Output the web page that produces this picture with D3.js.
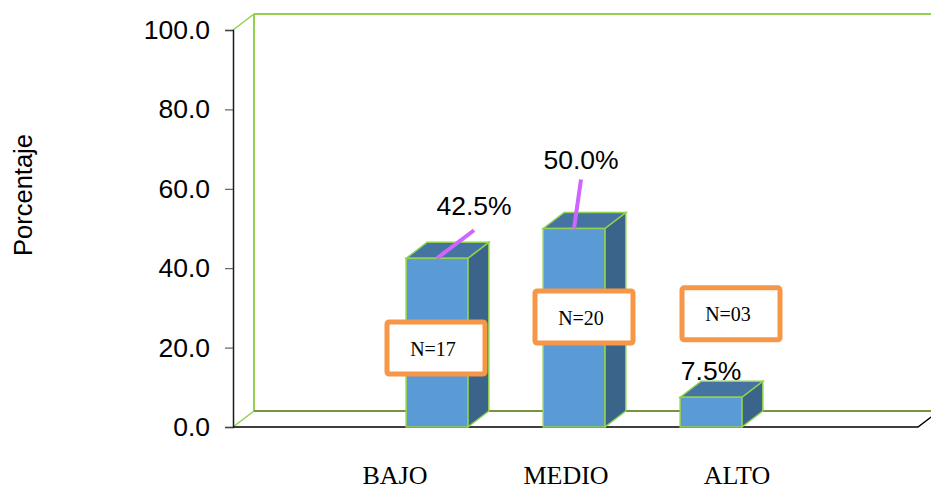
<!DOCTYPE html>
<html>
<head>
<meta charset="utf-8">
<script src="https://cdn.jsdelivr.net/npm/d3@7"></script>
<style>
  body { margin: 0; background: #fff; }
  svg { display: block; }
</style>
</head>
<body>
<div id="chart"></div>
<script>
// data
var categories = ["BAJO", "MEDIO", "ALTO"];
var percentages = [42.5, 50.0, 7.5];
var counts = [17, 20, 3];
var yTicks = [0, 20, 40, 60, 80, 100];

// hand-placed annotations (label nudges in px, N boxes at a y value)
var pctNudge = [[37, -43, true], [7, -60, true], [0, -17, false]];
var boxSpot = [[-1, 19.9], [10, 27.7], [20, 28.5]];

var W = 931, H = 490;
var depth = {x: 21, y: -16};

var svg = d3.select("#chart").append("svg")
  .attr("width", W).attr("height", H);

var x = d3.scaleBand().domain(categories).range([233, 918])
  .paddingOuter(1).paddingInner(0);
var labelX = d3.scalePoint().domain(categories).range([395, 737]);
var y = d3.scaleLinear().domain([0, 100]).range([427, 30]);

var green = "#92d050";
var x0 = x.range()[0], x1 = x.range()[1];

// back wall and floor
var wall = svg.append("g").attr("fill", "none");
wall.append("line")
  .attr("x1", x0 + depth.x).attr("x2", W + 10)
  .attr("y1", y(100) + depth.y).attr("y2", y(100) + depth.y)
  .attr("stroke", green).attr("stroke-width", 2);
wall.append("line")
  .attr("x1", x0 + depth.x).attr("x2", x0 + depth.x)
  .attr("y1", y(100) + depth.y).attr("y2", y(0) + depth.y)
  .attr("stroke", green).attr("stroke-width", 2);
wall.append("line")
  .attr("x1", x0).attr("x2", x0 + depth.x)
  .attr("y1", y(100)).attr("y2", y(100) + depth.y)
  .attr("stroke", green).attr("stroke-width", 1.5);
wall.append("line")
  .attr("x1", x0).attr("x2", x0 + depth.x)
  .attr("y1", y(0)).attr("y2", y(0) + depth.y)
  .attr("stroke", green).attr("stroke-width", 1.5);
wall.append("line")
  .attr("x1", x0 + depth.x).attr("x2", W + 10)
  .attr("y1", y(0) + depth.y).attr("y2", y(0) + depth.y)
  .attr("stroke", "#77933c").attr("stroke-width", 2);
// floor front edge
wall.append("path")
  .attr("d", `M${x0},${y(0)}H${x1}L${x1 + depth.x},${y(0) + depth.y}`)
  .attr("stroke", "#000").attr("stroke-width", 1.5);

// y axis
var yAxis = svg.append("g")
  .attr("transform", `translate(${x0},0)`)
  .call(d3.axisLeft(y).tickValues(yTicks).tickFormat(d3.format(".1f")).tickSize(8).tickPadding(15));
yAxis.select(".domain").attr("stroke", "#1a1a1a").attr("stroke-width", 1.5);
yAxis.selectAll(".tick line").attr("stroke", "#444");
yAxis.selectAll("text")
  .style("font-family", "'Liberation Sans', Arial, sans-serif")
  .style("font-size", "26.5px").attr("fill", "#000");

svg.append("text")
  .attr("transform", "translate(32,195) rotate(-90)")
  .attr("text-anchor", "middle")
  .style("font-family", "'Liberation Sans', Arial, sans-serif")
  .style("font-size", "25.5px")
  .text("Porcentaje");

// bars
var bw = x.bandwidth() * 0.45;
var barX = function(c) { return x(c) + (x.bandwidth() - bw) / 2 - 1.5; };

var bars = svg.append("g").selectAll("g")
  .data(categories)
  .join("g");

bars.each(function(c, i) {
  var g = d3.select(this);
  var bx = barX(c), top = y(percentages[i]), bot = y(0);
  g.append("path") // side
    .attr("d", `M${bx + bw},${top}L${bx + bw + depth.x},${top + depth.y}L${bx + bw + depth.x},${bot + depth.y}L${bx + bw},${bot}Z`)
    .attr("fill", "#3a6489").attr("stroke", green).attr("stroke-width", 1.5);
  g.append("path") // top face
    .attr("d", `M${bx},${top}L${bx + depth.x},${top + depth.y}L${bx + bw + depth.x},${top + depth.y}L${bx + bw},${top}Z`)
    .attr("fill", "#44749f").attr("stroke", green).attr("stroke-width", 1.5);
  g.append("rect") // front
    .attr("x", bx).attr("y", top)
    .attr("width", bw).attr("height", bot - top)
    .attr("fill", "#5b9bd5").attr("stroke", green).attr("stroke-width", 1.5);
});

// percentage labels with leader lines
bars.each(function(c, i) {
  var g = d3.select(this);
  var cx = barX(c) + bw / 2, top = y(percentages[i]);
  var n = pctNudge[i];
  if (n[2]) {
    var ex = cx + n[0], ey = top + n[1] + 15;
    g.append("line")
      .attr("x1", cx).attr("y1", top)
      .attr("x2", ex).attr("y2", i === 0 ? ey : top + n[1] + 11)
      .attr("stroke", "#cc66ff").attr("stroke-width", 4);
  }
  g.append("text")
    .attr("x", cx + n[0]).attr("y", top + n[1])
    .attr("text-anchor", "middle")
    .style("font-family", "'Liberation Sans', Arial, sans-serif")
    .style("font-size", "26.5px")
    .text(d3.format(".1f")(percentages[i]) + "%");
});

// N boxes
bars.each(function(c, i) {
  var g = d3.select(this);
  var cx = barX(c) + bw / 2 + boxSpot[i][0], cy = y(boxSpot[i][1]);
  g.append("rect")
    .attr("x", cx - 49).attr("y", cy - 26)
    .attr("width", 98).attr("height", 52)
    .attr("rx", 2)
    .attr("fill", "#fff").attr("stroke", "#f79646").attr("stroke-width", 5);
  g.append("text")
    .attr("x", cx - 3).attr("y", cy + 3)
    .attr("text-anchor", "middle")
    .attr("dominant-baseline", "middle")
    .style("font-family", "'Liberation Serif', 'Times New Roman', serif")
    .style("font-size", "20px")
    .text("N=" + d3.format("02d")(counts[i]));
});

// category labels
svg.append("g").selectAll("text")
  .data(categories)
  .join("text")
  .attr("x", d => labelX(d)).attr("y", 484)
  .attr("text-anchor", "middle")
  .style("font-family", "'Liberation Serif', 'Times New Roman', serif")
  .style("font-size", "26px")
  .text(d => d);
</script>
</body>
</html>
